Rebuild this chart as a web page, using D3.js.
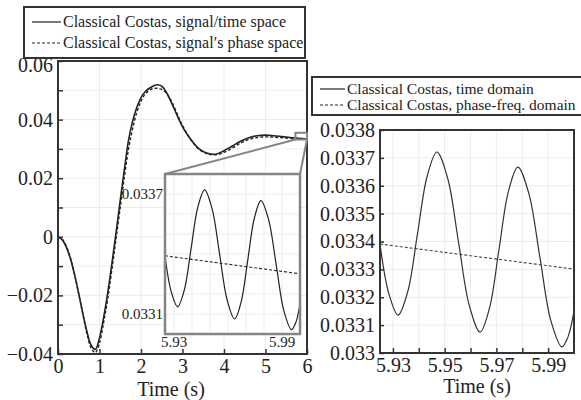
<!DOCTYPE html>
<html>
<head>
<meta charset="utf-8">
<script src="https://cdn.jsdelivr.net/npm/d3@7/dist/d3.min.js"></script>
<style>
  html, body { margin: 0; padding: 0; background: #fff; }
  svg { display: block; }
  text { font-family: "Liberation Serif", "Times New Roman", serif; fill: #222; }
</style>
</head>
<body>
<svg id="chart" width="581" height="400"></svg>
<script>
// Classical Costas loop response, 0–6 s
const timeFull = [0, 0.1, 0.2, 0.3, 0.4, 0.5, 0.6, 0.7, 0.8, 0.9, 1.0, 1.1, 1.2, 1.3, 1.4, 1.5,
  1.6, 1.7, 1.8, 1.9, 2.0, 2.1, 2.2, 2.3, 2.4, 2.5, 2.6, 2.7, 2.8, 2.9, 3.0, 3.2, 3.4, 3.6,
  3.8, 4.0, 4.2, 4.4, 4.6, 4.8, 5.0, 5.2, 5.4, 5.6, 5.8, 6.0];
const costasTimeSpace = [0, -0.0010, -0.0035, -0.0075, -0.0130, -0.0195, -0.0262, -0.0325,
  -0.0370, -0.0384, -0.0345, -0.0275, -0.0190, -0.0090, 0.0015, 0.0125, 0.0230, 0.0330,
  0.0395, 0.0442, 0.0475, 0.0495, 0.0507, 0.0515, 0.0519, 0.0514, 0.0496, 0.0468, 0.0437,
  0.0405, 0.0375, 0.0332, 0.0300, 0.0285, 0.0282, 0.0294, 0.0310, 0.0326, 0.0338, 0.0345,
  0.0347, 0.0345, 0.0342, 0.0339, 0.0336, 0.0334];
const costasPhaseSpace = [0, -0.0008, -0.0032, -0.0072, -0.0128, -0.0195, -0.0265, -0.0332,
  -0.0380, -0.0395, -0.0362, -0.0292, -0.0210, -0.0110, -0.0005, 0.0100, 0.0205, 0.0300,
  0.0370, 0.0425, 0.0463, 0.0487, 0.0500, 0.0506, 0.0507, 0.0503, 0.0492, 0.0472, 0.0443,
  0.0410, 0.0380, 0.0332, 0.0298, 0.0283, 0.0280, 0.0288, 0.0303, 0.0320, 0.0332, 0.0339,
  0.0341, 0.0340, 0.0338, 0.0336, 0.0334, 0.0333];

// Close-up of the last 75 ms
const timeZoom = [5.925, 5.9285, 5.932, 5.93575, 5.9395, 5.94325, 5.947, 5.95118, 5.95535,
  5.95953, 5.9637, 5.96735, 5.971, 5.97465, 5.9783, 5.98255, 5.9868, 5.99105, 5.9953,
  5.99765, 6.0];
const costasTimeDomain = [0.03339, 0.03321, 0.033136, 0.033221, 0.033428, 0.033635, 0.033721,
  0.033626, 0.033398, 0.03317, 0.033075, 0.033162, 0.033371, 0.03358, 0.033667, 0.033572,
  0.0333445, 0.033116, 0.033022, 0.033057, 0.03315];
const timeZoomPhase = [5.925, 5.95, 5.975, 6.0];
const costasPhaseFreqDomain = [0.033391, 0.033361, 0.033331, 0.033301];

// Axis ticks and labels
const fullXTicks = [0, 1, 2, 3, 4, 5, 6];
const fullYTicks = [-0.04, -0.02, 0, 0.02, 0.04, 0.06];
const fullYMinor = [-0.03, -0.01, 0.01, 0.03, 0.05];
const zoomXTicks = [5.93, 5.95, 5.97, 5.99];
const zoomXMinor = [5.94, 5.96, 5.98];
const zoomYTicks = [0.033, 0.0331, 0.0332, 0.0333, 0.0334, 0.0335, 0.0336, 0.0337, 0.0338];
const insetXLabels = [5.93, 5.99];
const insetYLabels = [0.0331, 0.0337];
const legendLeft = ["Classical Costas, signal/time space", "Classical Costas, signal′s phase space"];
const legendRight = ["Classical Costas, time domain", "Classical Costas, phase-freq. domain"];

// Window of the full plot that the inset magnifies (marker box)
const windowT = [5.72, 6.0];
const windowV = [0.0332, 0.0355];

const svg = d3.select("#chart");
svg.append("rect").attr("width", 581).attr("height", 400).attr("fill", "#fff");

const ink = "#222", frameInk = "#333", gridInk = "#ececec", insetInk = "#858585";
const serif = '"Liberation Serif", "Times New Roman", serif';

function pts(xs, ys) { return xs.map((t, i) => [t, ys[i]]); }

// ---------- full-range plot ----------
const xFull = d3.scaleLinear().domain([0, 6]).range([58, 307]);
const yFull = d3.scaleLinear().domain([-0.04, 0.06]).range([354, 61]);

const gFull = svg.append("g");
// light grid
gFull.selectAll("line.gx").data(fullXTicks.slice(1, -1)).join("line")
  .attr("x1", d => xFull(d)).attr("x2", d => xFull(d))
  .attr("y1", yFull.range()[0]).attr("y2", yFull.range()[1])
  .attr("stroke", gridInk).attr("stroke-width", 1);
gFull.selectAll("line.gy").data(fullYTicks.concat(fullYMinor).filter(v => v > -0.04 && v < 0.06)).join("line")
  .attr("x1", xFull.range()[0]).attr("x2", xFull.range()[1])
  .attr("y1", d => yFull(d)).attr("y2", d => yFull(d))
  .attr("stroke", gridInk).attr("stroke-width", 1);

const lineFull = d3.line().x(d => xFull(d[0])).y(d => yFull(d[1])).curve(d3.curveCatmullRom.alpha(0.5));
gFull.append("path").datum(pts(timeFull, costasPhaseSpace)).attr("d", lineFull)
  .attr("fill", "none").attr("stroke", ink).attr("stroke-width", 1.4).attr("stroke-dasharray", "3,2");
gFull.append("path").datum(pts(timeFull, costasTimeSpace)).attr("d", lineFull)
  .attr("fill", "none").attr("stroke", ink).attr("stroke-width", 1.6);

function styleAxis(g, size) {
  g.select(".domain").remove();
  g.selectAll(".tick line").attr("stroke", frameInk).attr("stroke-width", 1.5);
  g.selectAll(".tick text").attr("font-family", serif).attr("font-size", size).attr("fill", ink);
}

const fmtFull = v => v === 0 ? "0" : d3.format(".2f")(v);
gFull.append("g").attr("transform", `translate(0,${yFull.range()[0]})`)
  .call(d3.axisBottom(xFull).tickValues(fullXTicks).tickSize(-5).tickPadding(5).tickFormat(d3.format("d")))
  .call(g => styleAxis(g, 20));
gFull.append("g").attr("transform", `translate(${xFull.range()[0]},0)`)
  .call(d3.axisLeft(yFull).tickValues(fullYTicks).tickSize(-5).tickPadding(5).tickFormat(fmtFull))
  .call(g => styleAxis(g, 20))
  // the top label sits just below the legend box
  .call(g => g.selectAll(".tick text").filter(d => d === 0.06).attr("y", 4));
gFull.append("g").attr("transform", `translate(${xFull.range()[0]},0)`)
  .call(d3.axisLeft(yFull).tickValues(fullYMinor).tickSize(-5).tickFormat(""))
  .call(g => styleAxis(g, 20));

gFull.append("rect")
  .attr("x", xFull.range()[0]).attr("y", yFull.range()[1])
  .attr("width", xFull.range()[1] - xFull.range()[0]).attr("height", yFull.range()[0] - yFull.range()[1])
  .attr("fill", "none").attr("stroke", frameInk).attr("stroke-width", 2);

gFull.append("text").attr("x", 171).attr("y", 396).attr("text-anchor", "middle")
  .attr("font-size", 20).text("Time (s)");

// ---------- inset magnifier ----------
const xInset = d3.scaleLinear().domain([5.925, 6.0]).range([165, 300]);
const yInset = d3.scaleLinear().domain([0.033, 0.0338]).range([334, 174]);

const gInset = svg.append("g");
gInset.append("line")
  .attr("x1", xFull(windowT[0])).attr("y1", yFull(windowV[0]))
  .attr("x2", xInset.range()[0]).attr("y2", yInset.range()[1])
  .attr("stroke", insetInk).attr("stroke-width", 2);
gInset.append("line")
  .attr("x1", xFull(windowT[1])).attr("y1", yFull(windowV[0]))
  .attr("x2", xInset.range()[1]).attr("y2", yInset.range()[1])
  .attr("stroke", insetInk).attr("stroke-width", 2);
gInset.append("rect")
  .attr("x", xFull(windowT[0])).attr("y", yFull(windowV[1]))
  .attr("width", xFull(windowT[1]) - xFull(windowT[0])).attr("height", yFull(windowV[0]) - yFull(windowV[1]))
  .attr("fill", "none").attr("stroke", insetInk).attr("stroke-width", 2);

gInset.append("rect")
  .attr("x", xInset.range()[0]).attr("y", yInset.range()[1])
  .attr("width", xInset.range()[1] - xInset.range()[0]).attr("height", yInset.range()[0] - yInset.range()[1])
  .attr("fill", "#fff");
svg.append("clipPath").attr("id", "insetClip").append("rect")
  .attr("x", xInset.range()[0]).attr("y", yInset.range()[1])
  .attr("width", xInset.range()[1] - xInset.range()[0]).attr("height", yInset.range()[0] - yInset.range()[1]);

gInset.selectAll("line.igx").data(zoomXTicks.concat(zoomXMinor)).join("line")
  .attr("x1", d => xInset(d)).attr("x2", d => xInset(d))
  .attr("y1", yInset.range()[0]).attr("y2", yInset.range()[1])
  .attr("stroke", gridInk).attr("stroke-width", 1);
gInset.selectAll("line.igy").data(zoomYTicks.slice(1, -1)).join("line")
  .attr("x1", xInset.range()[0]).attr("x2", xInset.range()[1])
  .attr("y1", d => yInset(d)).attr("y2", d => yInset(d))
  .attr("stroke", gridInk).attr("stroke-width", 1);

const lineInset = d3.line().x(d => xInset(d[0])).y(d => yInset(d[1])).curve(d3.curveCatmullRom.alpha(0.5));
const gInsetPlot = gInset.append("g").attr("clip-path", "url(#insetClip)");
gInsetPlot.append("path").datum(pts(timeZoomPhase, costasPhaseFreqDomain)).attr("d", lineInset)
  .attr("fill", "none").attr("stroke", ink).attr("stroke-width", 1.1).attr("stroke-dasharray", "3,2");
gInsetPlot.append("path").datum(pts(timeZoom, costasTimeDomain)).attr("d", lineInset)
  .attr("fill", "none").attr("stroke", ink).attr("stroke-width", 1.2);

gInset.append("rect")
  .attr("x", xInset.range()[0]).attr("y", yInset.range()[1])
  .attr("width", xInset.range()[1] - xInset.range()[0]).attr("height", yInset.range()[0] - yInset.range()[1])
  .attr("fill", "none").attr("stroke", insetInk).attr("stroke-width", 2.5);

gInset.selectAll("text.iy").data(insetYLabels).join("text")
  .attr("x", xInset.range()[0] - 2).attr("y", d => yInset(d)).attr("dy", "0.35em")
  .attr("text-anchor", "end").attr("font-size", 15).attr("fill", "#333")
  .text(d => d3.format(".4f")(d));
gInset.selectAll("text.ix").data(insetXLabels).join("text")
  .attr("x", d => xInset(d)).attr("y", yInset.range()[0] + 13)
  .attr("text-anchor", "middle").attr("font-size", 15).attr("fill", "#333")
  .text(d => d3.format(".2f")(d));

// ---------- close-up plot ----------
const xZoom = d3.scaleLinear().domain([5.925, 6.0]).range([380, 574]);
const yZoom = d3.scaleLinear().domain([0.033, 0.0338]).range([353, 130]);

const gZoom = svg.append("g");
gZoom.selectAll("line.zgx").data(zoomXTicks.concat(zoomXMinor)).join("line")
  .attr("x1", d => xZoom(d)).attr("x2", d => xZoom(d))
  .attr("y1", yZoom.range()[0]).attr("y2", yZoom.range()[1])
  .attr("stroke", gridInk).attr("stroke-width", 1);
gZoom.selectAll("line.zgy").data(zoomYTicks.slice(1, -1)).join("line")
  .attr("x1", xZoom.range()[0]).attr("x2", xZoom.range()[1])
  .attr("y1", d => yZoom(d)).attr("y2", d => yZoom(d))
  .attr("stroke", gridInk).attr("stroke-width", 1);

svg.append("clipPath").attr("id", "zoomClip").append("rect")
  .attr("x", xZoom.range()[0]).attr("y", yZoom.range()[1])
  .attr("width", xZoom.range()[1] - xZoom.range()[0]).attr("height", yZoom.range()[0] - yZoom.range()[1]);
const lineZoom = d3.line().x(d => xZoom(d[0])).y(d => yZoom(d[1])).curve(d3.curveCatmullRom.alpha(0.5));
const gZoomPlot = gZoom.append("g").attr("clip-path", "url(#zoomClip)");
gZoomPlot.append("path").datum(pts(timeZoomPhase, costasPhaseFreqDomain)).attr("d", lineZoom)
  .attr("fill", "none").attr("stroke", "#444").attr("stroke-width", 1.1).attr("stroke-dasharray", "3,2");
gZoomPlot.append("path").datum(pts(timeZoom, costasTimeDomain)).attr("d", lineZoom)
  .attr("fill", "none").attr("stroke", "#333").attr("stroke-width", 1.2);

gZoom.append("g").attr("transform", `translate(0,${yZoom.range()[0]})`)
  .call(d3.axisBottom(xZoom).tickValues(zoomXTicks).tickSize(-5).tickPadding(5).tickFormat(d3.format(".2f")))
  .call(g => styleAxis(g, 20));
gZoom.append("g").attr("transform", `translate(0,${yZoom.range()[0]})`)
  .call(d3.axisBottom(xZoom).tickValues(zoomXMinor).tickSize(-5).tickFormat(""))
  .call(g => styleAxis(g, 20));
gZoom.append("g").attr("transform", `translate(${xZoom.range()[0]},0)`)
  .call(d3.axisLeft(yZoom).tickValues(zoomYTicks).tickSize(-4).tickPadding(5).tickFormat(d3.format(".4~f")))
  .call(g => styleAxis(g, 20));

gZoom.append("rect")
  .attr("x", xZoom.range()[0]).attr("y", yZoom.range()[1])
  .attr("width", xZoom.range()[1] - xZoom.range()[0]).attr("height", yZoom.range()[0] - yZoom.range()[1])
  .attr("fill", "none").attr("stroke", frameInk).attr("stroke-width", 2);

gZoom.append("text").attr("x", (xZoom.range()[0] + xZoom.range()[1]) / 2).attr("y", 393)
  .attr("text-anchor", "middle").attr("font-size", 20).text("Time (s)");

// ---------- legends ----------
function legend(x, y, w, h, items, sample, rows, size) {
  const g = svg.append("g");
  g.append("rect").attr("x", x).attr("y", y).attr("width", w).attr("height", h)
    .attr("fill", "#fff").attr("stroke", frameInk).attr("stroke-width", 2);
  items.forEach((label, i) => {
    const row = rows[i];
    g.append("line").attr("x1", sample[0]).attr("x2", sample[1])
      .attr("y1", row - 5).attr("y2", row - 5)
      .attr("stroke", ink).attr("stroke-width", 1.2)
      .attr("stroke-dasharray", i === 1 ? "3,2" : null);
    g.append("text").attr("x", sample[1] + 2).attr("y", row)
      .attr("font-size", size).text(label);
  });
}
legend(24, 7, 281, 51, legendLeft, [32, 61], [27, 48], 16);
legend(312, 77, 290, 38, legendRight, [320, 345], [94, 110], 15.5);
</script>
</body>
</html>
